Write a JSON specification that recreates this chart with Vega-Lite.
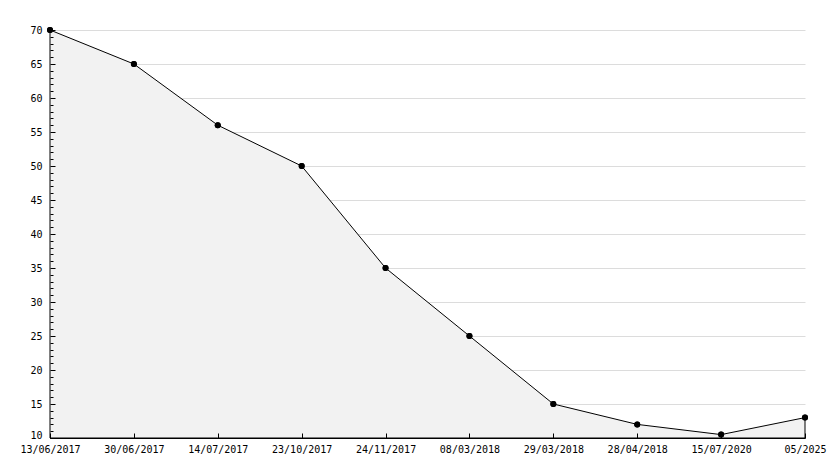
{
  "$schema": "https://vega.github.io/schema/vega-lite/v6.json",
  "width": 755,
  "height": 408,
  "autosize": {"type": "none"},
  "padding": {"left": 50, "top": 30, "right": 29, "bottom": 30},
  "background": "white",
  "config": {
    "view": {"stroke": null},
    "axis": {
      "labelFont": "DejaVu Sans Mono",
      "labelFontSize": 10,
      "labelColor": "black",
      "domainColor": "black",
      "tickColor": "black",
      "gridColor": "#dcdcdc",
      "title": null,
      "labelOverlap": false
    }
  },
  "data": {
    "values": [
      {"date": "13/06/2017", "value": 70},
      {"date": "30/06/2017", "value": 65},
      {"date": "14/07/2017", "value": 56},
      {"date": "23/10/2017", "value": 50},
      {"date": "24/11/2017", "value": 35},
      {"date": "08/03/2018", "value": 25},
      {"date": "29/03/2018", "value": 15},
      {"date": "28/04/2018", "value": 12},
      {"date": "15/07/2020", "value": 10.5},
      {"date": "05/2025", "value": 13}
    ]
  },
  "resolve": {"axis": {"x": "independent", "y": "independent"}},
  "layer": [
    {
      "mark": {"type": "area", "fill": "#f2f2f2", "stroke": "black", "strokeWidth": 1},
      "encoding": {
        "x": {
          "field": "date", "type": "ordinal", "sort": null,
          "scale": {"type": "point", "padding": 0},
          "axis": {"orient": "bottom", "labelAngle": 0, "grid": false, "ticks": false, "tickSize": 0, "labelPadding": 6, "labelBaseline": "top", "domain": true, "zindex": 1}
        },
        "y": {
          "field": "value", "type": "quantitative",
          "scale": {"domain": [10, 70], "nice": false, "zero": false},
          "axis": {"orient": "left", "values": [10,15,20,25,30,35,40,45,50,55,60,65,70], "ticks": false, "tickSize": 0, "labelPadding": 8, "labelBaseline": {"condition": {"test": "datum.value == 10", "value": "alphabetic"}, "value": "middle"}, "grid": true, "domain": true, "zindex": 0}
        },
        "y2": {"datum": 10}
      }
    },
    {
      "mark": {"type": "point", "filled": true, "color": "black", "shape": "circle", "size": 36, "opacity": 1},
      "encoding": {
        "x": {
          "field": "date", "type": "ordinal", "sort": null,
          "axis": {"orient": "bottom", "offset": -5, "tickSize": 5, "labels": false, "domain": false, "grid": false, "zindex": 1}
        },
        "y": {
          "field": "value", "type": "quantitative",
          "axis": {"orient": "left", "offset": -5, "tickSize": 5, "values": [10,15,20,25,30,35,40,45,50,55,60,65,70], "labels": false, "domain": false, "grid": false, "zindex": 1}
        }
      }
    },
    {
      "mark": {"type": "point", "filled": true, "color": "black", "shape": "circle", "size": 36, "opacity": 1},
      "encoding": {
        "x": {
          "field": "date", "type": "ordinal", "sort": null,
          "axis": null
        },
        "y": {
          "field": "value", "type": "quantitative",
          "axis": {"orient": "left", "offset": -3, "tickSize": 3, "values": [11,12,13,14,16,17,18,19,21,22,23,24,26,27,28,29,31,32,33,34,36,37,38,39,41,42,43,44,46,47,48,49,51,52,53,54,56,57,58,59,61,62,63,64,66,67,68,69], "labels": false, "domain": false, "grid": false, "zindex": 1}
        }
      }
    }
  ]
}
